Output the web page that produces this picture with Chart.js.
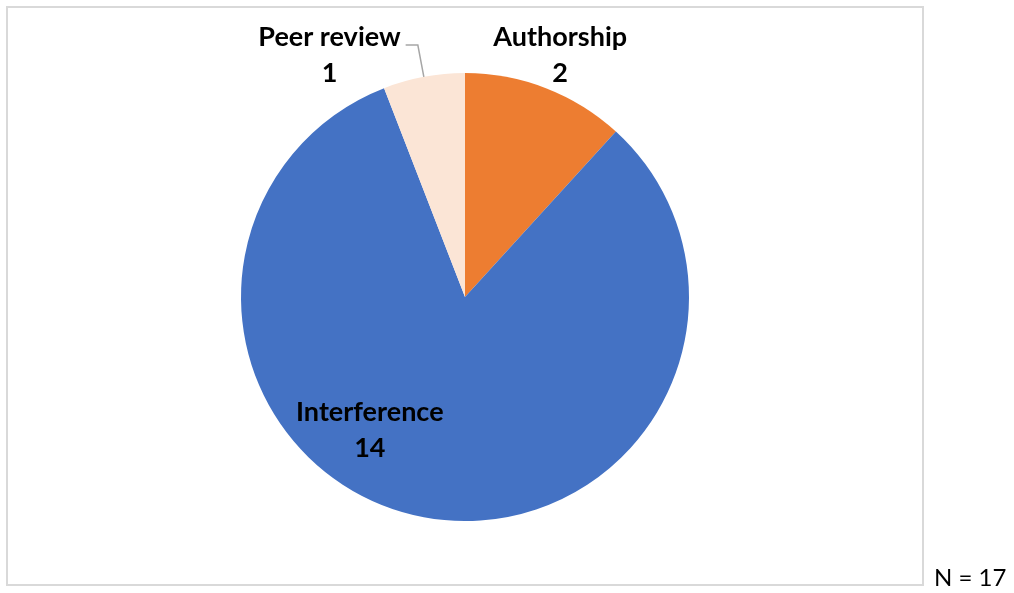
<!DOCTYPE html>
<html>
<head>
<meta charset="utf-8">
<script src="https://cdn.jsdelivr.net/npm/chart.js@4"></script>
<style>
  html, body { margin: 0; padding: 0; background: #fff; }
  #wrap { position: relative; width: 1014px; height: 593px; }
</style>
</head>
<body>
<div id="wrap"><canvas id="myChart" width="1014" height="593"></canvas></div>
<script>
'use strict';

// data
var categories = ['Authorship', 'Interference', 'Peer review'];
var counts = [2, 14, 1];
var sliceColors = ['#ED7D31', '#4472C4', '#FBE5D6'];
var footNote = 'N = 17';

// label placement relative to pie centre, in units of radius
var labelPos = [
  { fx: 0.425, fy: -1.08 },
  { fx: -0.425, fy: 0.595 },
  { fx: -0.605, fy: -1.08 }
];

var FONT = 'Lato, "Open Sans", sans-serif';

var labelsPlugin = {
  id: 'sliceLabels',
  afterDatasetsDraw: function (chart) {
    var ctx = chart.ctx;
    var arcs = chart.getDatasetMeta(0).data;
    ctx.save();
    ctx.fillStyle = '#000';
    ctx.font = 'bold 27px ' + FONT;
    ctx.textAlign = 'center';
    ctx.textBaseline = 'middle';
    arcs.forEach(function (arc, i) {
      var r = arc.outerRadius;
      var x = arc.x + labelPos[i].fx * r;
      var y = arc.y + labelPos[i].fy * r;
      ctx.fillText(categories[i], x, y - 18);
      ctx.fillText(String(counts[i]), x, y + 18);
    });

    // leader line for the small slice
    var pr = arcs[2];
    var mid = (pr.startAngle + pr.endAngle) / 2;
    var ex = pr.x + Math.cos(mid) * pr.outerRadius;
    var ey = pr.y + Math.sin(mid) * pr.outerRadius;
    var lx = pr.x + labelPos[2].fx * pr.outerRadius;
    var ly = pr.y + labelPos[2].fy * pr.outerRadius;
    var half = ctx.measureText(categories[2]).width / 2;
    ctx.strokeStyle = '#A6A6A6';
    ctx.lineWidth = 1.5;
    ctx.beginPath();
    ctx.moveTo(ex, ey);
    ctx.lineTo(ex - 6, ly - 10);
    ctx.lineTo(lx + half + 5, ly - 10);
    ctx.stroke();
    ctx.restore();
  },
  beforeDraw: function (chart) {
    var ctx = chart.ctx;
    ctx.save();
    ctx.fillStyle = '#fff';
    ctx.fillRect(0, 0, chart.width, chart.height);
    ctx.strokeStyle = '#D9D9D9';
    ctx.lineWidth = 2;
    ctx.strokeRect(7, 7, 916, 578);
    ctx.fillStyle = '#000';
    ctx.font = '24px ' + FONT;
    ctx.textAlign = 'left';
    ctx.textBaseline = 'alphabetic';
    ctx.fillText(footNote, 934, 586);
    ctx.restore();
  }
};

new Chart(document.getElementById('myChart'), {
  type: 'pie',
  data: {
    labels: categories,
    datasets: [{
      data: counts,
      backgroundColor: sliceColors,
      borderWidth: 0
    }]
  },
  options: {
    responsive: false,
    animation: false,
    layout: {
      padding: { left: 241, right: 325, top: 73, bottom: 72 }
    },
    plugins: {
      legend: { display: false },
      tooltip: { enabled: false }
    }
  },
  plugins: [labelsPlugin]
});
</script>
</body>
</html>
